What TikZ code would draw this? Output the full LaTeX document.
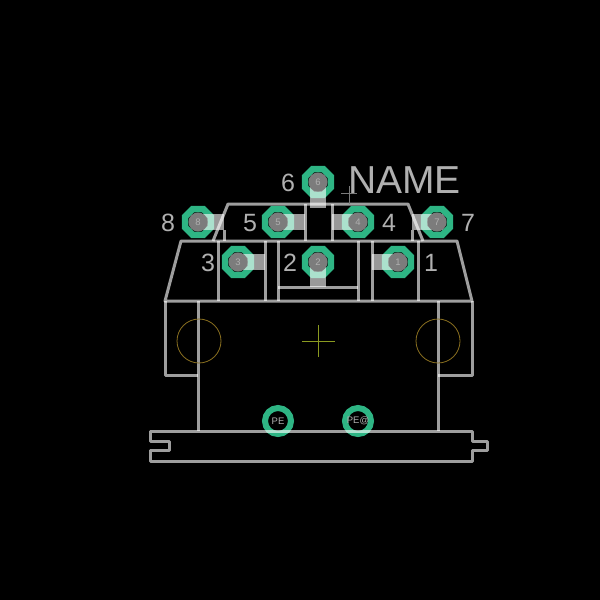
\documentclass[tikz,border=0pt]{standalone}
\usepackage{fontspec}
\setmainfont{Liberation Sans}
\usepackage{xcolor}
\usetikzlibrary{shapes.geometric,positioning,calc}

\definecolor{padgreen}{HTML}{2EB584}
\definecolor{wiregrey}{HTML}{B0B0B0}
\definecolor{holegrey}{HTML}{7C7C7C}
\definecolor{holdring}{HTML}{8A7020}
\definecolor{origin}{HTML}{8A9A20}

\begin{document}
\begin{tikzpicture}[
      x=1pt, y=-1pt,
      %% rings first, everything pale goes over them with opacity so the overlap turns mint
      padring/.style={regular polygon, regular polygon sides=8,
                      draw=padgreen, line width=6.5pt, minimum size=28pt, inner sep=0pt},
      gndring/.style={circle, draw=padgreen, line width=6pt, minimum size=26pt, inner sep=0pt},
      padtab/.style={fill=white, opacity=.6},
      padhole/.style={fill=holegrey},
      outline/.style={draw=white, draw opacity=.62, line width=3pt, line join=round},
      padnum/.style={font=\fontsize{9.5}{9.5}\selectfont, text=wiregrey},
      pinnum/.style={font=\fontsize{25}{25}\selectfont, text=wiregrey}]

    \fill[black] (0,0) rectangle (600,600);
    \useasboundingbox (0,0) rectangle (600,600);

    %% ---- pad rings ----
    \foreach \nm/\px/\py in {eight/198/222, five/278/222, four/358/222, seven/437/222,
                             six/318/182, three/238/262, two/318/262, one/398/262}
      \node[padring] (\nm) at (\px,\py) {};
    \node[gndring] (pe) at (278,421) {};
    \node[gndring] (pea) at (358,421) {};

    %% ---- tabs from each pad to the housing ----
    \foreach \xa/\ya/\xb/\yb in {193/214/224/230, 273/214/305/230, 332/214/363/230,
                                 412/214/443/230, 310/177/326/208, 233/254/265/270,
                                 310/257/326/287, 372/254/403/270}
      \fill[padtab] (\xa,\ya) rectangle (\xb,\yb);
    %% the hole stays one grey where the tab crosses it
    \foreach \nm in {eight,five,four,seven,six,three,two,one}
      \fill[padhole] (\nm.center) circle (9.5);

    %% ---- housing ----
    \draw[outline] (165,301) -- (181,241) -- (457,241) -- (472,301) -- cycle;
    \draw[outline] (213,241) -- (228,204) -- (408,204) -- (423,241);
    \draw[outline] (224,230) -- (224,241);
    \draw[outline] (412,230) -- (412,241);
    \draw[outline] (305,204) -- (305,241);
    \draw[outline] (332,204) -- (332,241);
    \foreach \px in {218,265,278,358,372,418}
      \draw[outline] (\px,241) -- (\px,301);
    \draw[outline] (278,287) -- (358,287);
    \draw[outline] (165,301) -- (165,375) -- (198,375);
    \draw[outline] (472,301) -- (472,375) -- (438,375);
    \draw[outline] (198,301) -- (198,431);
    \draw[outline] (438,301) -- (438,431);
    \draw[outline] (150,431) -- (472,431) -- (472,441) -- (487,441) -- (487,450)
      -- (472,450) -- (472,461) -- (150,461) -- (150,450) -- (169,450) -- (169,441)
      -- (150,441) -- cycle;

    %% ---- mounting holes and crosses ----
    \draw[holdring, line width=.8pt] (199,341) circle (22);
    \draw[holdring, line width=.8pt] (438,341) circle (22);
    \draw[origin, line width=.8pt] (302,341) -- (335,341);
    \draw[origin, line width=.8pt] (318,325) -- (318,357);
    \draw[wiregrey!70!black, line width=.8pt] (341,193) -- (357,193);
    \draw[wiregrey!70!black, line width=.8pt] (349,186) -- (349,204);

    %% ---- labels ----
    \foreach \nm/\tx in {eight/8, five/5, four/4, seven/7, six/6, three/3, two/2, one/1}
      \node[padnum] at (\nm.center) {\tx};
    \node[padnum] at (pe.center) {PE};
    \node[padnum] at (pea.center) {PE@};
    \node[pinnum] (n8) at (168,223) {8};
    \node[pinnum] (n5) at (250,223) {5};
    \node[pinnum] (n4) at (389,223) {4};
    \node[pinnum] (n7) at (468,223) {7};
    \node[pinnum] (n6) at (288,183) {6};
    \node[pinnum] (n3) at (208,263) {3};
    \node[pinnum] (n2) at (290,263) {2};
    \node[pinnum] (n1) at (431,263) {1};
    \node[font=\fontsize{39}{39}\selectfont, text=wiregrey, anchor=base west, inner sep=0pt]
      (nametxt) at (348,193) {NAME};
  \end{tikzpicture}
\end{document}
